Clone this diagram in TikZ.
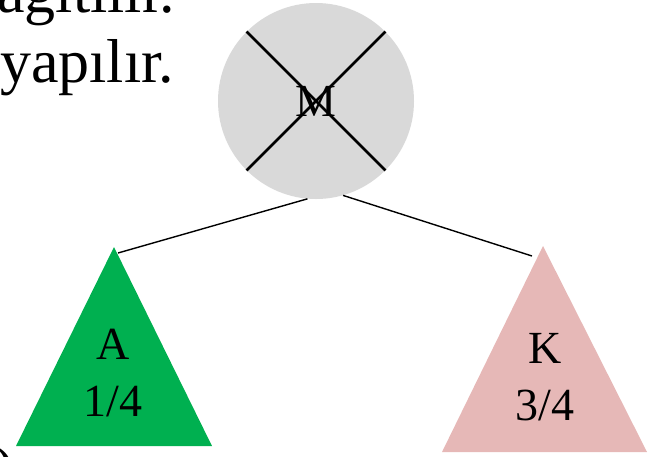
\documentclass[tikz,border=0pt]{standalone}
\usepackage{fontspec}
\setmainfont{Liberation Serif}
\definecolor{mygray}{RGB}{217,217,217}
\definecolor{mygreen}{RGB}{0,176,80}
\definecolor{mypink}{RGB}{230,184,183}
\usetikzlibrary{positioning}

\begin{document}
\begin{tikzpicture}[x=1pt,y=-1pt,
        every node/.style={inner sep=0pt},
        bigtext/.style={font=\fontsize{62}{70}\selectfont},
        labtext/.style={font=\fontsize{46}{57}\selectfont,align=center},
        rootnode/.style={circle,fill=mygray,minimum size=196pt,labtext},
        cross/.style={line width=2.6pt},
        edge/.style={line width=1.4pt}
        ]
        \useasboundingbox (0,0) rectangle (650,456);
        \clip (0,0) rectangle (650,456);

        % the slide text
        \node[bigtext,anchor=base east] (line1) at (175,12) {ağıtılır.};
        \node[bigtext,anchor=base west] (line2) at (0,82) {yapılır.};
        \node[bigtext,anchor=base west] (paren) at (-6,489) {)};

        % the crossed-out root
        \node[rootnode] (m) at (316,101) {M};
        \draw[cross] (m.45) -- (m.225);
        \draw[cross] (m.135) -- (m.315);

        % the leaves
        \fill[mygreen] (114,247) coordinate (atop) -- (212,446) -- (16,446) -- cycle;
        \fill[mypink] (543,246) coordinate (ktop) -- (647,452) -- (442,452) -- cycle;
        \node[labtext] (a) at (113,373) {A\\1/4};
        \node[labtext] (k) at (545,377) {K\\3/4};

        % the edges
        \coordinate (aend) at (118,253);
        \coordinate (kend) at (532,256);
        \draw[edge] (m.265) -- (aend);
        \draw[edge] (m.286) -- (kend);
\end{tikzpicture}
\end{document}
